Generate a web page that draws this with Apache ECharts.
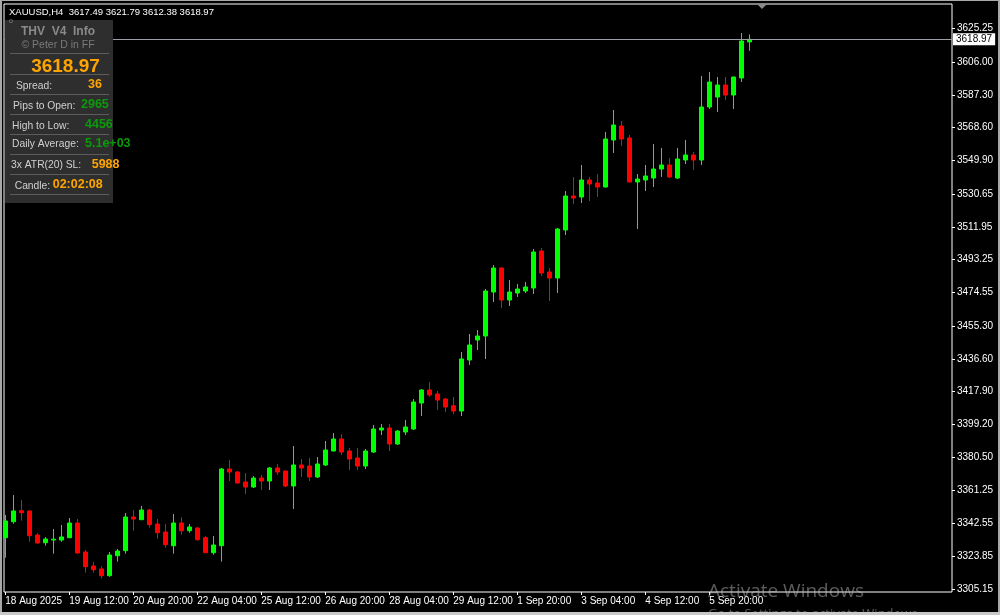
<!DOCTYPE html>
<html><head><meta charset="utf-8">
<script src="https://cdn.jsdelivr.net/npm/echarts@6/dist/echarts.min.js"></script>
<style>html,body{margin:0;padding:0;background:#000;}#c{width:1000px;height:615px;}</style>
</head><body><div id="c"></div>
<script>
const symbol = 'XAUUSD,H4';
const categories = [
'18 Aug 04:00','18 Aug 08:00','18 Aug 12:00','18 Aug 16:00','18 Aug 20:00',
'19 Aug 00:00','19 Aug 04:00','19 Aug 08:00','19 Aug 12:00','19 Aug 16:00','19 Aug 20:00',
'20 Aug 00:00','20 Aug 04:00','20 Aug 08:00','20 Aug 12:00','20 Aug 16:00','20 Aug 20:00',
'21 Aug 00:00','21 Aug 04:00','21 Aug 08:00','21 Aug 12:00','21 Aug 16:00','21 Aug 20:00',
'22 Aug 00:00','22 Aug 04:00','22 Aug 08:00','22 Aug 12:00','22 Aug 16:00','22 Aug 20:00',
'25 Aug 00:00','25 Aug 04:00','25 Aug 08:00','25 Aug 12:00','25 Aug 16:00','25 Aug 20:00',
'26 Aug 00:00','26 Aug 04:00','26 Aug 08:00','26 Aug 12:00','26 Aug 16:00','26 Aug 20:00',
'27 Aug 00:00','27 Aug 04:00','27 Aug 08:00','27 Aug 12:00','27 Aug 16:00','27 Aug 20:00',
'28 Aug 00:00','28 Aug 04:00','28 Aug 08:00','28 Aug 12:00','28 Aug 16:00','28 Aug 20:00',
'29 Aug 00:00','29 Aug 04:00','29 Aug 08:00','29 Aug 12:00','29 Aug 16:00','29 Aug 20:00',
'1 Sep 00:00','1 Sep 04:00','1 Sep 08:00','1 Sep 12:00','1 Sep 16:00','1 Sep 20:00',
'2 Sep 00:00','2 Sep 04:00','2 Sep 08:00','2 Sep 12:00','2 Sep 16:00','2 Sep 20:00',
'3 Sep 00:00','3 Sep 04:00','3 Sep 08:00','3 Sep 12:00','3 Sep 16:00','3 Sep 20:00',
'4 Sep 00:00','4 Sep 04:00','4 Sep 08:00','4 Sep 12:00','4 Sep 16:00','4 Sep 20:00',
'5 Sep 00:00','5 Sep 04:00','5 Sep 08:00','5 Sep 12:00','5 Sep 16:00','5 Sep 20:00',
'8 Sep 00:00','8 Sep 04:00','8 Sep 08:00','8 Sep 12:00','8 Sep 16:00'
];
const opens = [
3334.44,3343.57,3349.85,3349.68,3335.98,3331.58,3333.12,3333.12,3334.44,3342.83,
3326.27,3318.28,3316.57,3312.74,3324.16,3327.02,3346.25,3344.71,3350.25,3342.26,
3337.69,3329.87,3342.83,3338.43,3339.97,3334.44,3325.87,3329.87,3373.66,3371.95,
3366.24,3363.38,3368.52,3366.81,3374.23,3372.52,3363.95,3375.94,3375.37,3369.09,
3375.94,3383.93,3390.79,3383.93,3379.94,3375.37,3383.36,3395.92,3397.06,3387.93,
3394.78,3396.49,3411.34,3418.76,3416.48,3413.62,3409.80,3406.77,3435.89,3447.30,
3449.59,3474.71,3488.41,3470.14,3474.14,3475.28,3476.99,3498.11,3486.13,3482.70,
3510.10,3529.51,3528.94,3538.65,3536.94,3534.65,3561.48,3569.48,3562.63,3537.51,
3538.65,3539.79,3544.93,3547.21,3539.79,3550.07,3552.92,3550.07,3580.32,3586.03,
3592.88,3587.17,3596.88,3617.49
];
const highs = [
3347.40,3358.81,3355.96,3349.97,3337.12,3334.84,3339.40,3341.69,3345.68,3345.11,
3327.42,3320.56,3318.11,3326.27,3327.99,3348.54,3350.25,3352.53,3350.82,3345.11,
3342.26,3347.97,3346.08,3342.26,3340.55,3335.41,3335.41,3374.23,3378.80,3372.52,
3371.37,3369.66,3370.23,3374.80,3376.51,3372.80,3386.79,3379.37,3379.94,3380.51,
3389.64,3394.21,3393.64,3385.65,3385.65,3385.08,3398.78,3399.35,3399.35,3395.92,
3401.63,3413.62,3419.33,3423.33,3418.19,3414.19,3414.76,3440.45,3450.73,3453.01,
3476.42,3490.12,3488.80,3481.56,3479.27,3480.42,3499.26,3499.83,3488.41,3511.24,
3532.37,3540.36,3547.21,3540.36,3542.07,3566.05,3578.61,3572.33,3564.34,3542.07,
3547.21,3559.20,3556.92,3551.21,3556.92,3561.48,3554.63,3598.02,3600.31,3597.45,
3597.45,3597.60,3622.57,3621.79
];
const lows = [
3323.02,3342.43,3344.14,3332.15,3331.01,3329.87,3325.30,3332.15,3334.20,3325.30,
3314.46,3314.46,3311.03,3312.17,3320.74,3325.30,3338.43,3344.54,3340.15,3333.87,
3328.73,3325.30,3336.15,3337.29,3332.72,3325.60,3324.73,3320.74,3366.81,3365.30,
3359.39,3362.81,3361.67,3361.67,3370.23,3363.38,3350.82,3369.09,3366.81,3368.52,
3375.37,3383.70,3381.65,3373.09,3373.09,3373.66,3382.79,3393.07,3383.93,3387.36,
3393.07,3395.92,3403.92,3414.93,3407.34,3406.20,3405.06,3403.92,3433.03,3441.60,
3436.46,3469.00,3465.57,3466.71,3471.85,3474.14,3473.57,3483.84,3469.57,3474.14,
3507.25,3524.95,3525.52,3526.66,3528.94,3534.40,3554.06,3558.06,3537.30,3510.67,
3532.37,3534.65,3540.36,3539.79,3539.22,3547.78,3544.36,3547.21,3579.18,3577.47,
3584.32,3579.18,3594.60,3612.38
];
const closes = [
3343.97,3349.68,3348.71,3335.58,3331.41,3333.70,3333.60,3334.84,3342.83,3325.70,
3317.88,3316.17,3312.74,3324.56,3326.84,3346.25,3345.11,3350.25,3341.86,3337.29,
3330.44,3342.83,3338.43,3340.55,3333.30,3325.87,3330.27,3373.66,3371.95,3365.67,
3363.38,3368.52,3366.81,3374.23,3371.95,3363.95,3375.94,3374.23,3369.09,3376.51,
3384.51,3390.79,3383.36,3379.37,3375.37,3383.93,3396.49,3397.06,3387.93,3395.35,
3397.64,3411.91,3418.76,3415.90,3413.05,3409.05,3406.77,3436.46,3444.45,3449.59,
3475.28,3488.41,3470.14,3474.71,3476.42,3477.56,3497.54,3485.55,3482.70,3510.67,
3529.51,3528.37,3538.65,3536.36,3534.65,3562.06,3570.05,3562.06,3537.51,3539.22,
3540.93,3544.93,3547.21,3540.36,3550.64,3552.92,3550.07,3580.32,3594.60,3592.88,
3587.17,3597.45,3618.00,3618.97
];
const xTickIndex = [0,8,16,24,32,40,48,56,64,72,80,88];
const xTickLabels = ['18 Aug 2025','19 Aug 12:00','20 Aug 20:00','22 Aug 04:00','25 Aug 12:00','26 Aug 20:00','28 Aug 04:00','29 Aug 12:00','1 Sep 20:00','3 Sep 04:00','4 Sep 12:00','5 Sep 20:00'];
const yTickValues = [3625.25,3606.00,3587.30,3568.60,3549.90,3530.65,3511.95,3493.25,3474.55,3455.30,3436.60,3417.90,3399.20,3380.50,3361.25,3342.55,3323.85,3305.15];
const panelTitle = 'THV  V4  Info';
const panelCredit = '© Peter D in FF';
const panelLabels = ['Spread:','Pips to Open:','High to Low:','Daily Average:','3x ATR(20) SL:','Candle:'];
const panelValues = ['36','2965','4456','5.1e+03','5988','02:02:08'];
const panelValueKinds = ['o','g','g','g','o','o'];

const FONT = "'Liberation Sans', Arial, sans-serif";
const last = opens.length - 1;
const ORANGE = '#ffa500', GREEN = '#0a9a0a';

// layout (pixel) constants for the info panel
const labelX = [16,13,12,12,11,14.7], labelY = [86,106,126,144,165,186];
const valueX = [88,81,85,85,91.7,52.7], valueY = [84.5,104.5,124.5,144,165,185];
const dividerY = [53,74,94,114,134,154,174,194];

const g = [];
g.push({type:'rect', shape:{x:5,y:20,width:108,height:183}, style:{fill:'#2e2e2e'}, z:100});
g.push({type:'text', style:{x:9,y:21,text:'o',fill:'#8a8a8a',font:'7px '+FONT,align:'left',verticalAlign:'middle'}, z:101});
g.push({type:'text', style:{x:58,y:32,text:panelTitle,fill:'#8a8a8a',font:'bold 12px '+FONT,align:'center',verticalAlign:'middle'}, z:101});
g.push({type:'text', style:{x:58,y:45,text:panelCredit,fill:'#7a7a7a',font:'10.5px '+FONT,align:'center',verticalAlign:'middle'}, z:101});
dividerY.forEach(y=>g.push({type:'rect', shape:{x:10,y:y,width:99,height:1}, style:{fill:'#5c5c5c'}, z:101}));
g.push({type:'text', style:{x:65.5,y:66.5,text:closes[last].toFixed(2),fill:ORANGE,font:'bold 19px '+FONT,align:'center',verticalAlign:'middle'}, z:101});
panelLabels.forEach((t,i)=>{
  g.push({type:'text', style:{x:labelX[i],y:labelY[i],text:t,fill:'#d0d0d0',font:'10.3px '+FONT,align:'left',verticalAlign:'middle'}, z:101});
  g.push({type:'text', style:{x:valueX[i],y:valueY[i],text:panelValues[i],fill:panelValueKinds[i]==='o'?ORANGE:GREEN,font:'bold 12.5px '+FONT,align:'left',verticalAlign:'middle'}, z:102});
});
// header
g.push({type:'text', style:{x:9,y:12,text:symbol+'  '+[opens[last],highs[last],lows[last],closes[last]].map(v=>v.toFixed(2)).join(' '),fill:'#fff',font:'9.5px '+FONT,align:'left',verticalAlign:'middle'}, z:101});
// chart shift marker
g.push({type:'polygon', shape:{points:[[757,4],[767,4],[762,9]]}, style:{fill:'#8a8a8a'}, z:101});
// watermark
g.push({type:'text', style:{x:708,y:592,text:'Activate Windows',fill:'rgba(200,200,200,0.45)',font:'19px "Open Sans", sans-serif',align:'left',verticalAlign:'middle'}, z:103});
g.push({type:'text', style:{x:708,y:614,text:'Go to Settings to activate Windows.',fill:'rgba(200,200,200,0.45)',font:'13px "Open Sans", sans-serif',align:'left',verticalAlign:'middle'}, z:103});
// outer frame
g.push({type:'rect', shape:{x:0,y:0,width:2,height:615}, style:{fill:'#a8a8a8'}, z:104});
g.push({type:'rect', shape:{x:0,y:0,width:1000,height:1}, style:{fill:'#a8a8a8'}, z:104});
g.push({type:'rect', shape:{x:998,y:0,width:2,height:615}, style:{fill:'#a8a8a8'}, z:104});
g.push({type:'rect', shape:{x:0,y:612,width:1000,height:3}, style:{fill:'#c8c8c8'}, z:104});

const chart = echarts.init(document.getElementById('c'), null, {renderer:'canvas'});
chart.setOption({
  backgroundColor:'#000',
  animation:false,
  grid:{left:4,right:48,top:4,bottom:23,show:true,borderColor:'#ffffff',borderWidth:1,backgroundColor:'transparent',containLabel:false,outerBoundsMode:'none'},
  xAxis:{type:'value',min:-0.1625,max:118.3375,
    axisLine:{show:false,onZero:false},splitLine:{show:false},
    axisTick:{show:true,customValues:xTickIndex,length:3,lineStyle:{color:'#fff'}},
    axisLabel:{customValues:xTickIndex,formatter:v=>xTickLabels[xTickIndex.indexOf(Math.round(v))]||'',align:'left',color:'#fff',fontSize:10,fontFamily:FONT,margin:4}},
  yAxis:{type:'value',position:'right',min:3303.44,max:3639.13,
    axisLine:{show:false,onZero:false},splitLine:{show:false},
    axisTick:{show:true,customValues:yTickValues,length:3,lineStyle:{color:'#fff'}},
    axisLabel:{customValues:yTickValues,formatter:v=>v.toFixed(2),color:'#fff',fontSize:10,fontFamily:FONT,margin:5}},
  series:[{
    type:'candlestick',
    data:categories.map((c,i)=>[i,opens[i],closes[i],lows[i],highs[i]]),
    barWidth:4,
    itemStyle:{color:'#00ff00',color0:'#ff0000',borderColor:'#00ff00',borderColor0:'#ff0000',borderWidth:1},
    markLine:{silent:true,symbol:'none',animation:false,
      lineStyle:{color:'#9aa0a6',width:1,type:'solid'},
      label:{show:true,position:'end',distance:1,formatter:p=>Number(p.value).toFixed(2),backgroundColor:'#ffffff',color:'#000',fontSize:10,fontFamily:FONT,padding:[1,3,1,3]},
      data:[{yAxis:closes[last]}]}
  }],
  graphic:g
});
</script></body></html>
